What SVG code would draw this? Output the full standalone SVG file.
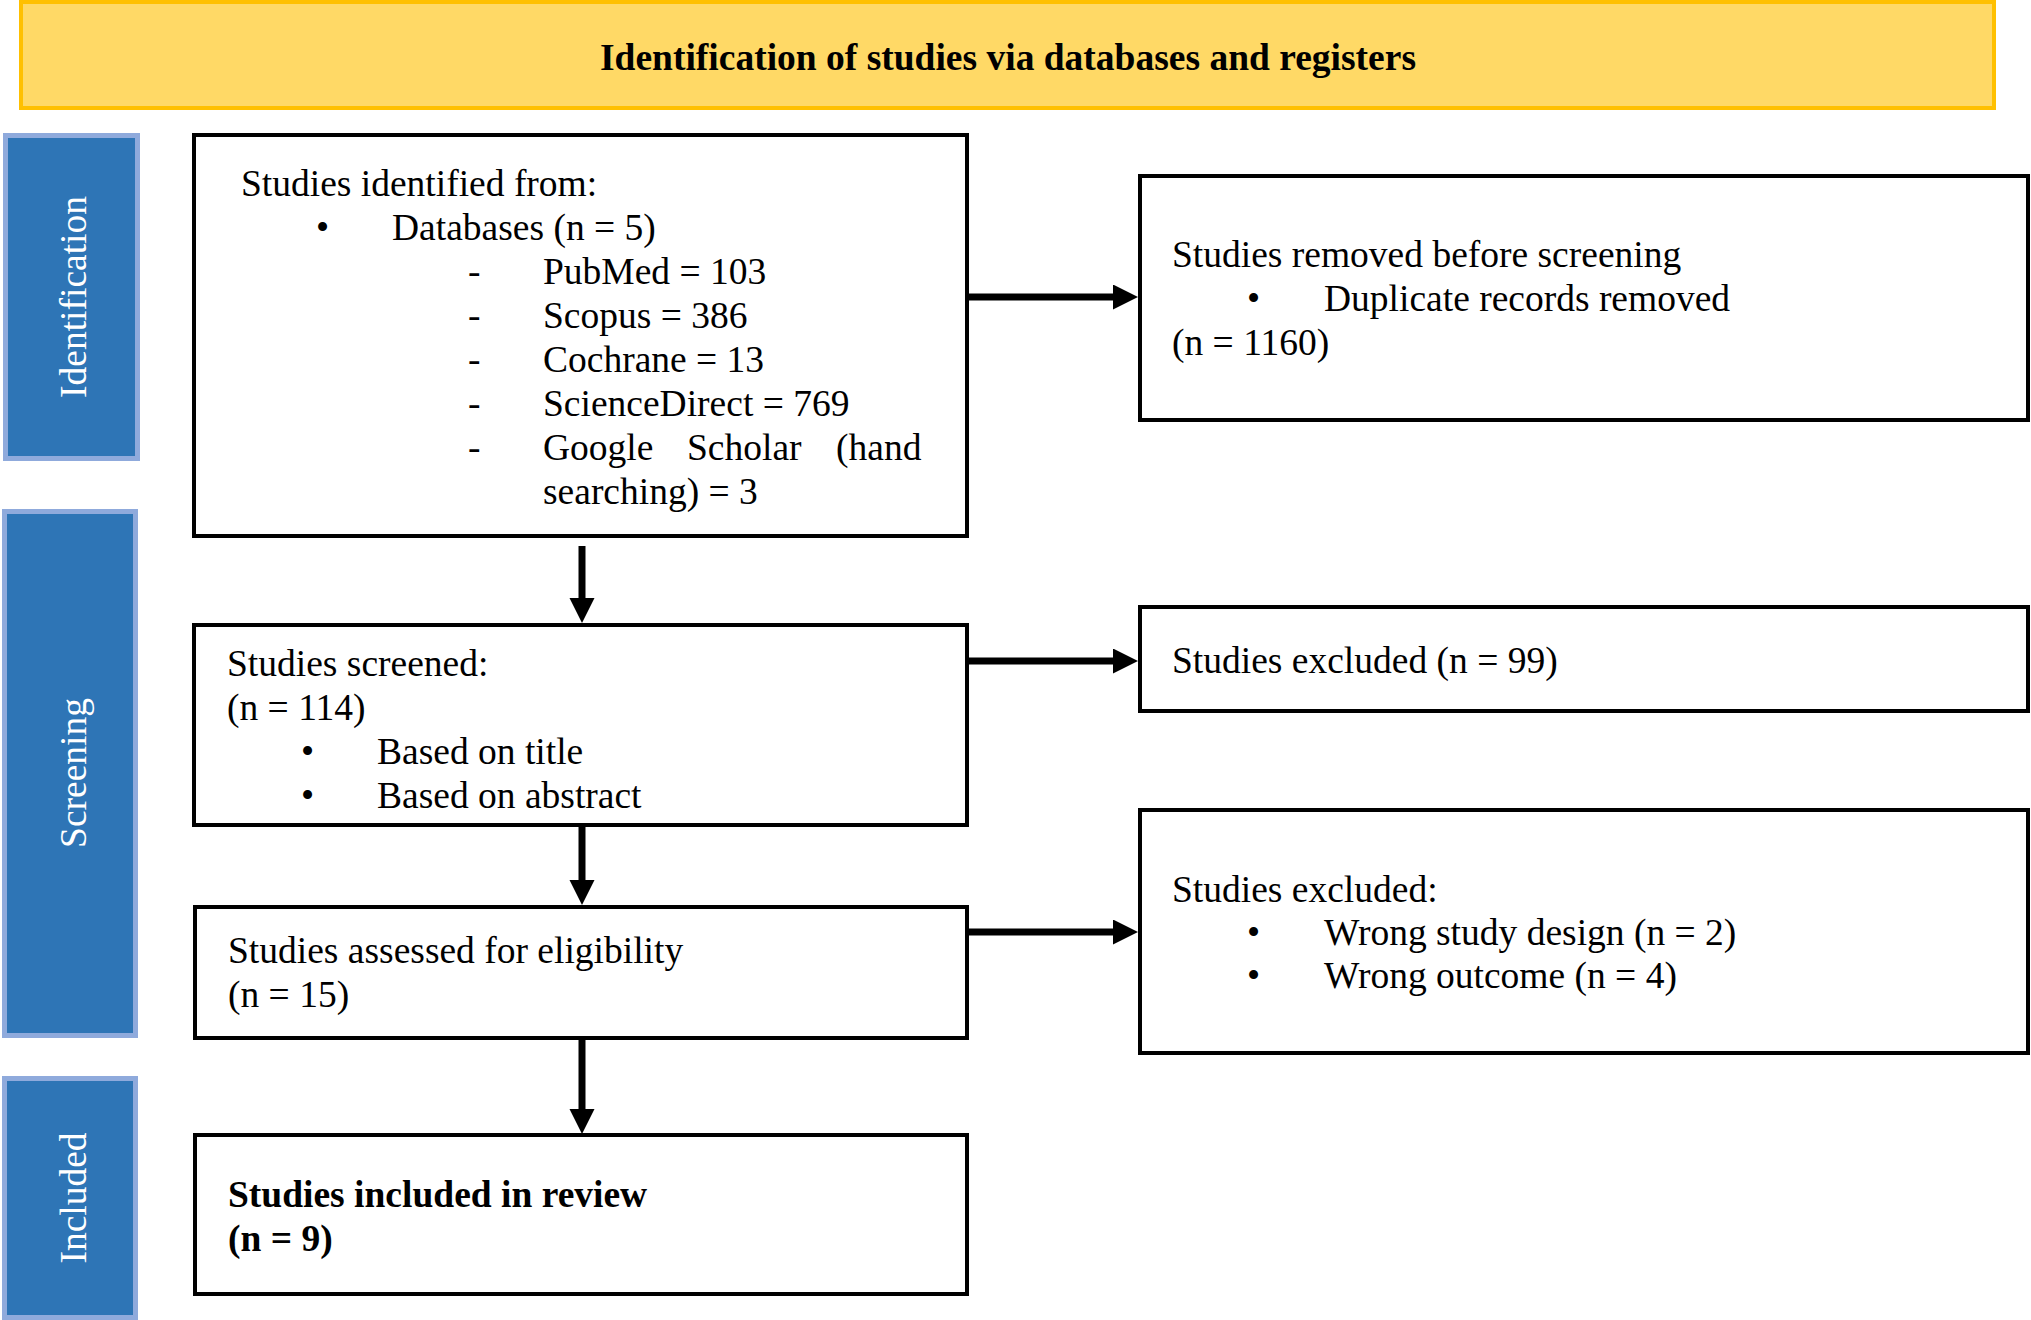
<svg xmlns="http://www.w3.org/2000/svg" width="2031" height="1320" viewBox="0 0 2031 1320">
<defs>
<style>
text{font-family:"Liberation Serif","Times New Roman",serif;font-size:37.5px;fill:#000}
.box{fill:#fff;stroke:#000;stroke-width:4}
.panel{fill:#2E75B6;stroke:#8FAADC;stroke-width:5}
.ptxt{fill:#fff;text-anchor:middle}
.conn{stroke:#000;stroke-width:7;fill:none;marker-end:url(#ah)}
.b{font-weight:bold}
</style>
<marker id="ah" markerUnits="userSpaceOnUse" markerWidth="26" markerHeight="26" refX="0" refY="12.5" orient="auto">
<path d="M0,0 L25,12.5 L0,25 z" fill="#000"/>
</marker>
</defs>
<rect width="2031" height="1320" fill="#fff"/>

<g id="banner">
<rect x="21" y="2" width="1973" height="106" fill="#FFD966" stroke="#FFC000" stroke-width="4"/>
<text class="b" x="1008" y="70" text-anchor="middle">Identification of studies via databases and registers</text>
</g>

<g id="phase-identification">
<rect class="panel" x="5.5" y="135.5" width="132" height="323"/>
<text class="ptxt" transform="translate(86,297) rotate(-90)">Identification</text>
</g>
<g id="phase-screening">
<rect class="panel" x="4.5" y="511.5" width="131" height="524"/>
<text class="ptxt" transform="translate(86,773) rotate(-90)">Screening</text>
</g>
<g id="phase-included">
<rect class="panel" x="4.5" y="1078.5" width="131" height="239"/>
<text class="ptxt" transform="translate(86,1198) rotate(-90)">Included</text>
</g>

<g id="connectors">
<path class="conn" d="M969,297 H1113"/>
<path class="conn" d="M969,661 H1113"/>
<path class="conn" d="M969,932 H1113"/>
<path class="conn" d="M582,546 V598"/>
<path class="conn" d="M582,810 V880"/>
<path class="conn" d="M582,1040 V1109"/>
</g>

<g id="identified">
<rect class="box" x="194" y="135" width="773" height="401"/>
<text x="241" y="196">Studies identified from:</text>
<text x="316" y="240">•</text>
<text x="392" y="240">Databases (n = 5)</text>
<text x="468" y="284">-</text><text x="543" y="284">PubMed = 103</text>
<text x="468" y="328">-</text><text x="543" y="328">Scopus = 386</text>
<text x="468" y="372">-</text><text x="543" y="372">Cochrane = 13</text>
<text x="468" y="416">-</text><text x="543" y="416">ScienceDirect = 769</text>
<text x="468" y="460">-</text><text y="460"><tspan x="543">Google</tspan><tspan x="687">Scholar</tspan><tspan x="836">(hand</tspan></text>
<text x="543" y="504">searching) = 3</text>
</g>

<g id="removed">
<rect class="box" x="1140" y="176" width="888" height="244"/>
<text x="1172" y="267">Studies removed before screening</text>
<text x="1247" y="311">•</text>
<text x="1324" y="311">Duplicate records removed</text>
<text x="1172" y="355">(n = 1160)</text>
</g>

<g id="screened">
<rect class="box" x="194" y="625" width="773" height="200"/>
<text x="227" y="676">Studies screened:</text>
<text x="227" y="720">(n = 114)</text>
<text x="301" y="764">•</text><text x="377" y="764">Based on title</text>
<text x="301" y="808">•</text><text x="377" y="808">Based on abstract</text>
</g>

<g id="excluded1">
<rect class="box" x="1140" y="607" width="888" height="104"/>
<text x="1172" y="673">Studies excluded (n = 99)</text>
</g>

<g id="assessed">
<rect class="box" x="195" y="907" width="772" height="131"/>
<text x="228" y="963">Studies assessed for eligibility</text>
<text x="228" y="1007">(n = 15)</text>
</g>

<g id="excluded2">
<rect class="box" x="1140" y="810" width="888" height="243"/>
<text x="1172" y="902">Studies excluded:</text>
<text x="1247" y="945">•</text><text x="1324" y="945">Wrong study design (n = 2)</text>
<text x="1247" y="988">•</text><text x="1324" y="988">Wrong outcome (n = 4)</text>
</g>

<g id="included">
<rect class="box" x="195" y="1135" width="772" height="159"/>
<text class="b" x="228" y="1207">Studies included in review</text>
<text class="b" x="228" y="1251">(n = 9)</text>
</g>
</svg>
